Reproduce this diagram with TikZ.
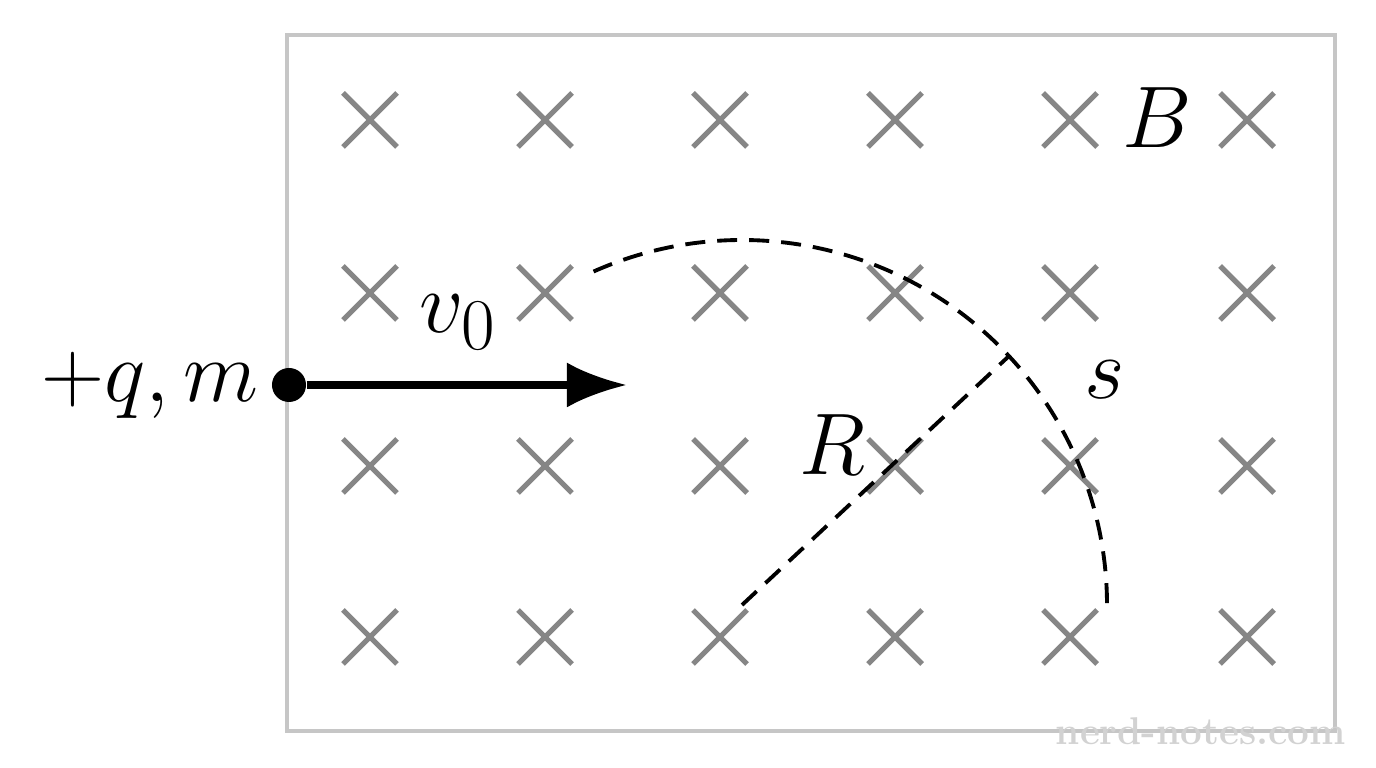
\documentclass[tikz,border=0pt]{standalone}
\usepackage{amsmath}
\usetikzlibrary{arrows.meta}
\begin{document}
\begin{tikzpicture}[x=0.01cm,y=-0.01cm,
  cross/.style={draw=gray!95,line width=1.5pt},
  lbl/.style={font=\fontsize{30}{36}\selectfont}]
\useasboundingbox (0,0) rectangle (1376,768);
\draw[gray!45,line width=1.4pt] (287,35) rectangle (1335,731);
% field crosses
\foreach \x in {370,545,720,895,1070,1247}
  \foreach \y in {120,293,466,637}
    \draw[cross] (\x-27,\y-27) -- (\x+27,\y+27) (\x-27,\y+27) -- (\x+27,\y-27);
\node[lbl,fill=white,inner sep=2pt] (B) at (1157,118) {$B$};
% particle
\node[circle,fill=black,inner sep=0pt,minimum size=0.34cm] (q) at (289,385) {};
\node[lbl,anchor=east] (qlbl) at (q.west) {$+q,m$};
\coordinate (tip) at (627,385);
\draw[line width=2pt,-{Latex[length=0.6cm,width=0.45cm]}] (q) -- (tip);
\node[lbl] (v) at (458,322) {$v_0$};
% path
\coordinate (O) at (742,605);
\draw[dashed,line width=1.1pt,dash pattern=on 0.2cm off 0.12cm] (O) ++(-114:365) arc (-114:0:365) coordinate (end);
\draw[dashed,line width=1.1pt,dash pattern=on 0.2cm off 0.12cm] (O) -- ++(-43:365) coordinate (P);
\node[lbl] (R) at (832,445) {$R$};
\node[lbl] (s) at (1105,380) {$s$};
\node[text=gray!35,font=\fontsize{11}{13}\selectfont\bfseries,anchor=east,inner sep=1pt] (wm) at (1350,731) {nerd-notes.com};
\end{tikzpicture}
\end{document}
